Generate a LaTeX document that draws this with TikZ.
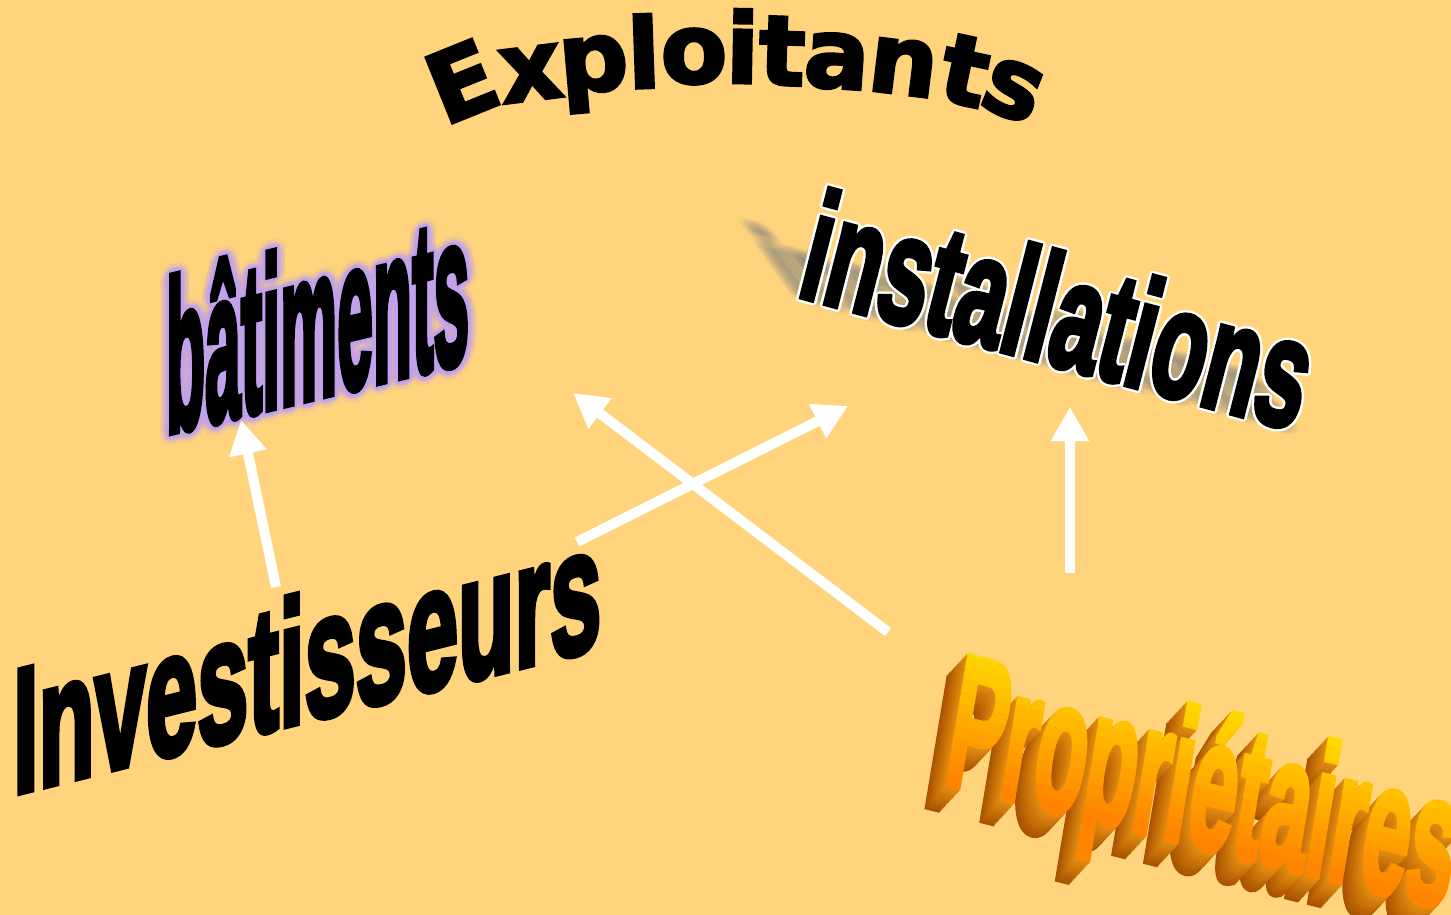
\documentclass[tikz,border=0pt]{standalone}
\usepackage{fontspec}
\usetikzlibrary{arrows.meta}
\newfontfamily\heavyfont{Liberation Sans Bold}[FakeBold=4]
\newfontfamily\widefont{DejaVu Sans Bold}[FakeBold=3]
\definecolor{bgpeach}{HTML}{FFD47D}
\definecolor{glowlilac}{HTML}{C2A2F0}
\definecolor{shadowgrey}{HTML}{8C8C8C}
\definecolor{propyellow}{HTML}{FFD800}
\definecolor{proporange}{HTML}{FF8400}
\definecolor{propfar}{HTML}{A85200}
\definecolor{propnear}{HTML}{E08A10}
% condensed word shapes
\newcommand\wordInvest{\scalebox{0.52}[1]{\fontsize{177}{177}\selectfont\heavyfont Investisseurs}}
\newcommand\wordBat{\scalebox{0.30}[1]{\fontsize{214}{214}\selectfont\heavyfont bâtiments}}
\newcommand\wordInst{\scalebox{0.54}[1]{\fontsize{159}{159}\selectfont\heavyfont installations}}
\newcommand\wordProp{\scalebox{0.44}[1.03]{\fontsize{186}{186}\selectfont\heavyfont Propriétaires}}
\tikzset{
  wordnode/.style={inner sep=0pt, outer sep=0pt, anchor=base west, transform shape},
  exlet/.style={inner sep=0pt, outer sep=0pt, anchor=base, font=\widefont\fontsize{97}{97}\selectfont},
  warrow/.style={draw=white, line width=10pt, -{Triangle[length=34pt,width=36pt]}},
}
\begin{document}
\begin{tikzpicture}[x=1pt,y=-1pt]
\useasboundingbox (0,0) rectangle (1451,915);
\fill[bgpeach] (0,0) rectangle (1451,915);

% arched title, one letter at a time
\node[exlet, rotate=22] (ex1) at (475,114) {E};
\node[exlet, rotate=7]  (ex2) at (534,100) {x};
\node[exlet, rotate=5]  (ex3) at (596,91) {p};
\node[exlet, rotate=2]  (ex4) at (645,88) {l};
\node[exlet, rotate=0]  (ex5) at (694,83) {o};
\node[exlet, rotate=-1] (ex6) at (742,83) {i};
\node[exlet, rotate=-2] (ex7) at (781,85) {t};
\node[exlet, rotate=-4] (ex8) at (835,88) {a};
\node[exlet, rotate=-7] (ex9) at (900,94) {n};
\node[exlet, rotate=-12] (ex10) at (958,104) {t};
\node[exlet, rotate=-22] (ex11) at (1003,115) {s};

% bâtiments with lilac glow
\begin{scope}[shift={(166,433)}, yslant=0.24]
  \foreach \a in {0,20,...,340}
    \node[wordnode, text=glowlilac, opacity=0.08] (batglowb\a) at (\a:9pt) {\wordBat};
  \foreach \a in {0,30,...,330}
    \node[wordnode, text=glowlilac, opacity=0.2] (batglowa\a) at (\a:5pt) {\wordBat};
  \foreach \a in {0,45,...,315}
    \node[wordnode, text=glowlilac] (batline\a) at (\a:2.5pt) {\wordBat};
  \node[wordnode] (bat) at (0,0) {\wordBat};
\end{scope}

% installations: italic, white rim and a long soft grey shadow
\begin{scope}[shift={(795,295)}, yslant=-0.27, xslant=0.24]
  \begin{scope}[xslant=-1.1, yscale=0.5]
    \foreach \a in {0,20,...,340}
      \node[wordnode, text=shadowgrey, opacity=0.03] (instshadowa\a) at (\a:10pt) {\wordInst};
    \foreach \a in {0,30,...,330}
      \node[wordnode, text=shadowgrey, opacity=0.03] (instshadowb\a) at (\a:5pt) {\wordInst};
  \end{scope}
  \foreach \a in {0,45,...,315}
    \node[wordnode, text=white] (instrim\a) at (\a:2.5pt) {\wordInst};
  \node[wordnode] (inst) at (0,0) {\wordInst};
\end{scope}

% Investisseurs
\begin{scope}[shift={(13,794)}, yslant=0.25]
  \node[wordnode] (inv) at (0,0) {\wordInvest};
\end{scope}

% Propriétaires: extruded depth, then a yellow-to-orange face
\foreach \k in {16,15,...,1}{
  \pgfmathsetmacro\mixp{100*(16-\k)/15}
  \begin{scope}[shift={(942-1.3*\k,782+1.4*\k)}, yslant=-0.25, xslant=0.16]
    \node[wordnode, text=propnear!\mixp!propfar] (propdepth\k) at (0,0) {\wordProp};
  \end{scope}
}
\begin{scope}[shift={(942,782)}, yslant=-0.25, xslant=0.16]
  \foreach \b in {0,...,11}{
    \pgfmathsetmacro\mixc{100*\b/11}
    \pgfmathsetmacro\ylo{\b==0 ? -80 : 12*\b}
    \pgfmathsetmacro\yhi{\b==11 ? 260 : 12*(\b+1)}
    \begin{scope}
      \clip (-60pt,\ylo pt) rectangle (700pt,\yhi pt);
      \node[wordnode, text=propyellow!\mixc!proporange] (propband\b) at (0,0) {\wordProp};
    \end{scope}
  }
\end{scope}

% white arrows
\coordinate (a1s) at (276,587);
\coordinate (a1e) at (241,420);
\coordinate (a2s) at (577,542);
\coordinate (a2e) at (848,406);
\coordinate (a3s) at (888,632);
\coordinate (a3e) at (573,393);
\coordinate (a4s) at (1070,573);
\coordinate (a4e) at (1070,407);
\draw[warrow] (a1s) -- (a1e);
\draw[warrow] (a2s) -- (a2e);
\draw[warrow] (a3s) -- (a3e);
\draw[warrow] (a4s) -- (a4e);
\end{tikzpicture}
\end{document}
